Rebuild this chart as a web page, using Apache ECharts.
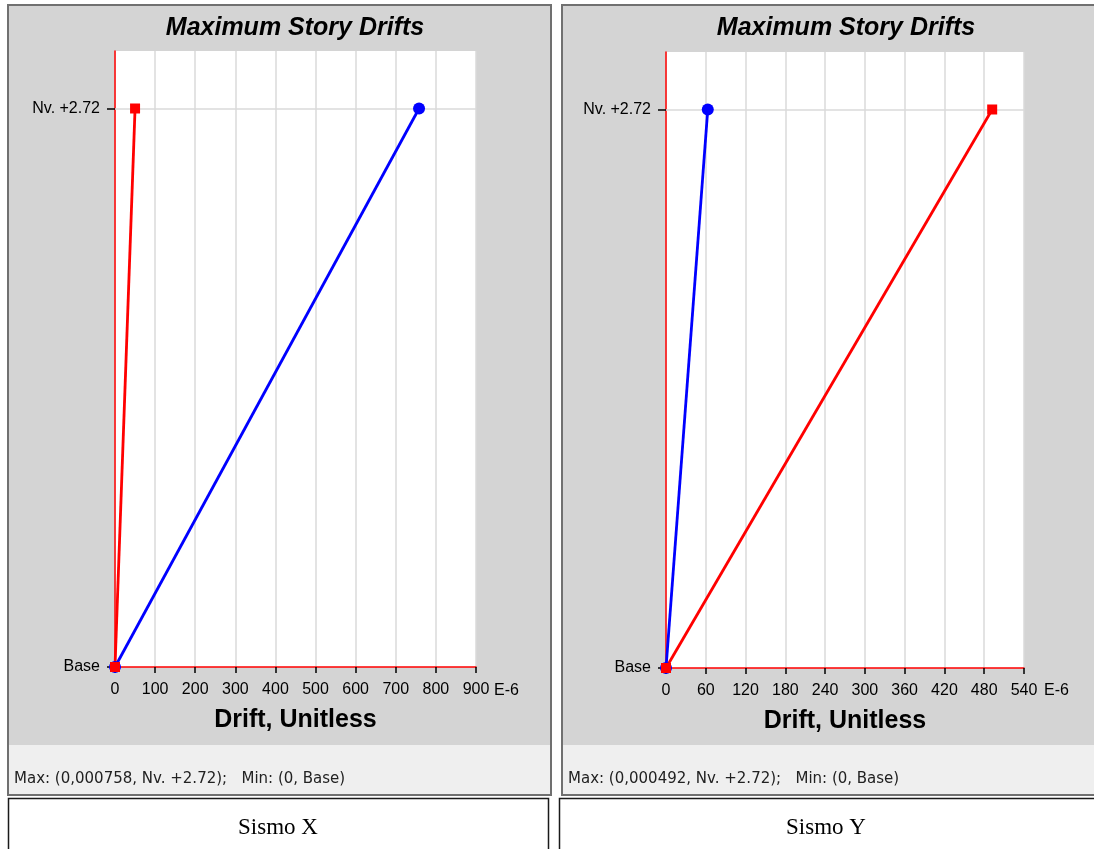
<!DOCTYPE html>
<html>
<head>
<meta charset="utf-8">
<script src="https://cdn.jsdelivr.net/npm/echarts@6/dist/echarts.min.js"></script>
<style>
  html, body { margin: 0; padding: 0; background: #fff; }
  #main { width: 1094px; height: 849px; }
</style>
</head>
<body>
<div id="main"></div>
<script>
// story levels
var levels = ['Base', 'Nv. +2.72'];
var levelElev = [0, 2.72];

// drift values, E-6
var sismoXdirX = [0, 758];
var sismoXdirY = [0, 50];
var sismoYdirX = [0, 63];
var sismoYdirY = [0, 492];

var xTicks = [
    { max: 900, step: 100 },
    { max: 540, step: 60 }
];
var maxText = [
    'Max: (0,000758, Nv. +2.72);   Min: (0, Base)',
    'Max: (0,000492, Nv. +2.72);   Min: (0, Base)'
];
var caseNames = ['Sismo X', 'Sismo Y'];

var chart = echarts.init(document.getElementById('main'));

function pts(xs) {
    return xs.map(function (v, i) { return [v, levelElev[i]]; });
}

function xAxisFor(i) {
    return {
        type: 'value',
        gridIndex: i,
        min: 0,
        max: xTicks[i].max,
        interval: xTicks[i].step,
        name: 'Drift, Unitless',
        nameLocation: 'middle',
        nameGap: 41,
        nameTextStyle: { color: '#000', fontSize: 25, fontWeight: 'bold', fontFamily: 'Arial' },
        axisLine: { show: true, lineStyle: { color: '#ff0000', width: 1.5 } },
        axisTick: { show: true, length: 6, lineStyle: { color: '#000', width: 1.5 } },
        axisLabel: { color: '#000', fontSize: 16, fontFamily: 'Arial', margin: 15 },
        splitLine: { show: true, lineStyle: { color: '#dadada', width: 1.5 } }
    };
}

function yAxisFor(i) {
    return {
        type: 'value',
        gridIndex: i,
        min: 0,
        max: 3,
        axisLine: { show: true, lineStyle: { color: '#ff0000', width: 1.5 } },
        axisTick: { show: true, length: 8, customValues: levelElev, lineStyle: { color: '#000', width: 1.5 } },
        axisLabel: {
            color: '#000', fontSize: 16, fontFamily: 'Arial', margin: 15,
            customValues: levelElev,
            formatter: function (v) { return levels[levelElev.indexOf(v)]; }
        },
        splitLine: { show: false }
    };
}

function lineSeries(i, data, color, symbol, size) {
    return {
        type: 'line',
        xAxisIndex: i,
        yAxisIndex: i,
        data: pts(data),
        symbol: symbol,
        symbolSize: size,
        showAllSymbol: true,
        clip: false,
        z: 3,
        lineStyle: { color: color, width: 2.8 },
        itemStyle: { color: color },
        emphasis: { disabled: true }
    };
}

function levelLine(i) {
    return {
        type: 'line',
        xAxisIndex: i,
        yAxisIndex: i,
        data: [],
        z: 1,
        markLine: {
            silent: true,
            z: 1,
            symbol: 'none',
            label: { show: false },
            lineStyle: { color: '#dadada', type: 'solid', width: 1.5 },
            data: [{ yAxis: levelElev[1] }]
        }
    };
}

var panels = [8, 562];
var graphics = [];
panels.forEach(function (px, i) {
    graphics.push({
        type: 'rect', z: -10,
        shape: { x: px, y: 5, width: 543, height: 790 },
        style: { fill: '#d4d4d4', stroke: '#707070', lineWidth: 2 }
    });
    graphics.push({
        type: 'rect', z: -9,
        shape: { x: px + 1, y: 745, width: 541, height: 49 },
        style: { fill: '#efefef' }
    });
    graphics.push({
        type: 'rect', z: -9,
        shape: { x: px - 2.5 + (i === 0 ? 3 : 0), y: 798.5, width: 540, height: 60 },
        style: { fill: '#fff', stroke: '#1a1a1a', lineWidth: 1.5 }
    });
    graphics.push({
        type: 'text', z: 100,
        style: {
            x: px + 6, y: 779, text: maxText[i], fill: '#222',
            font: '15px "DejaVu Sans"', textVerticalAlign: 'middle'
        }
    });
    graphics.push({
        type: 'text', z: 100,
        style: {
            x: i === 0 ? 278 : 826, y: 828, text: caseNames[i], fill: '#000',
            font: '23px "Liberation Serif"', textAlign: 'center', textVerticalAlign: 'middle'
        }
    });
    graphics.push({
        type: 'text', z: 100,
        style: {
            x: i === 0 ? 295 : 846, y: 28, text: 'Maximum Story Drifts', fill: '#000',
            font: 'italic bold 25px Arial', textAlign: 'center', textVerticalAlign: 'middle'
        }
    });
    graphics.push({
        type: 'text', z: 100,
        style: {
            x: i === 0 ? 494 : 1044, y: 691, text: 'E-6', fill: '#000',
            font: '16px Arial', textVerticalAlign: 'middle'
        }
    });
});

var option = {
    backgroundColor: '#fff',
    animation: false,
    graphic: { elements: graphics },
    grid: [
        { left: 115, top: 51, width: 361, height: 616, show: true, backgroundColor: '#fff', borderWidth: 0 },
        { left: 666, top: 52, width: 358, height: 616, show: true, backgroundColor: '#fff', borderWidth: 0 }
    ],
    xAxis: [xAxisFor(0), xAxisFor(1)],
    yAxis: [yAxisFor(0), yAxisFor(1)],
    series: [
        levelLine(0),
        lineSeries(0, sismoXdirX, '#0000ff', 'circle', 12),
        lineSeries(0, sismoXdirY, '#ff0000', 'rect', 10),
        levelLine(1),
        lineSeries(1, sismoYdirX, '#0000ff', 'circle', 12),
        lineSeries(1, sismoYdirY, '#ff0000', 'rect', 10)
    ]
};

chart.setOption(option);
</script>
</body>
</html>
